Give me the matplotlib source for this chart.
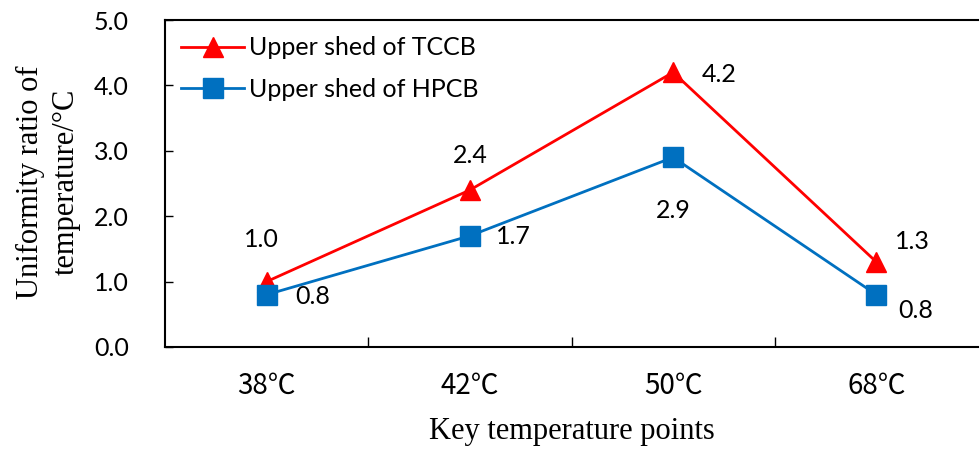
import numpy as np
import matplotlib.pyplot as plt

# Données
categories = ['38℃', '42℃', '50℃', '68℃']
tccb = [1.0, 2.4, 4.2, 1.3]
hpcb = [0.8, 1.7, 2.9, 0.8]
tccb_labels = ['1.0', '2.4', '4.2', '1.3']
hpcb_labels = ['0.8', '1.7', '2.9', '0.8']
yticks = [0.0, 1.0, 2.0, 3.0, 4.0, 5.0]

sans = ['Lato', 'DejaVu Sans']
cjk = ['Noto Sans CJK SC', 'DejaVu Sans']
serif = ['Liberation Serif', 'DejaVu Serif']

fig = plt.figure(figsize=(9.8, 4.5), dpi=100)
ax = fig.add_axes([165 / 980, 1 - 347 / 450, 813 / 980, 327 / 450])

x = np.arange(len(categories))
ax.plot(x, tccb, color='#FF0000', lw=2, marker='^', ms=14, label='Upper shed of TCCB')
ax.plot(x, hpcb, color='#0070C0', lw=2, marker='s', ms=14, label='Upper shed of HPCB')

# Étiquettes des valeurs (décalages en pixels)
off_t = [(-5, 42), (0, 35), (46, -2), (36, 20)]
off_h = [(46, -2), (44, -1), (0, -53), (39, -16)]
for i in range(len(x)):
    ax.annotate(tccb_labels[i], (x[i], tccb[i]), xytext=off_t[i], textcoords='offset pixels',
                ha='center', va='center', fontsize=18, family=sans)
    ax.annotate(hpcb_labels[i], (x[i], hpcb[i]), xytext=off_h[i], textcoords='offset pixels',
                ha='center', va='center', fontsize=18, family=sans)

ax.set_xlim(-0.5, 3.5)
ax.set_ylim(0, 5)
ax.set_yticks(yticks)
ax.set_yticklabels([f'{v:.1f}' for v in yticks], family=sans, fontsize=18)
ax.set_xticks([0.5, 1.5, 2.5])
ax.set_xticklabels([])
ax.set_xticks(x, minor=True)
ax.set_xticklabels(categories, minor=True, family=cjk, fontsize=20)
ax.tick_params(axis='x', which='major', direction='in', length=7, width=1)
ax.tick_params(axis='x', which='minor', length=0, pad=17)
ax.tick_params(axis='y', direction='in', length=6, width=1, pad=26)

for s in ['left', 'bottom', 'top']:
    ax.spines[s].set_linewidth(1.5)
ax.spines['right'].set_visible(False)

fig.text(48 / 980, 1 - 182 / 450, 'Uniformity ratio of\ntemperature/°C', rotation=90,
         ha='center', va='center', multialignment='center', family=serif, fontsize=22,
         linespacing=1.3)
fig.text(572 / 980, 1 - 432 / 450, 'Key temperature points', ha='center', va='center',
         family=serif, fontsize=22)

leg = ax.legend(loc='upper left', bbox_to_anchor=(0.0, 1.0), frameon=False,
                prop={'family': sans, 'size': 18}, handlelength=2.5, handletextpad=0.2,
                borderaxespad=0.35, borderpad=0.3, labelspacing=0.75)

plt.savefig('out.png', dpi=100)
